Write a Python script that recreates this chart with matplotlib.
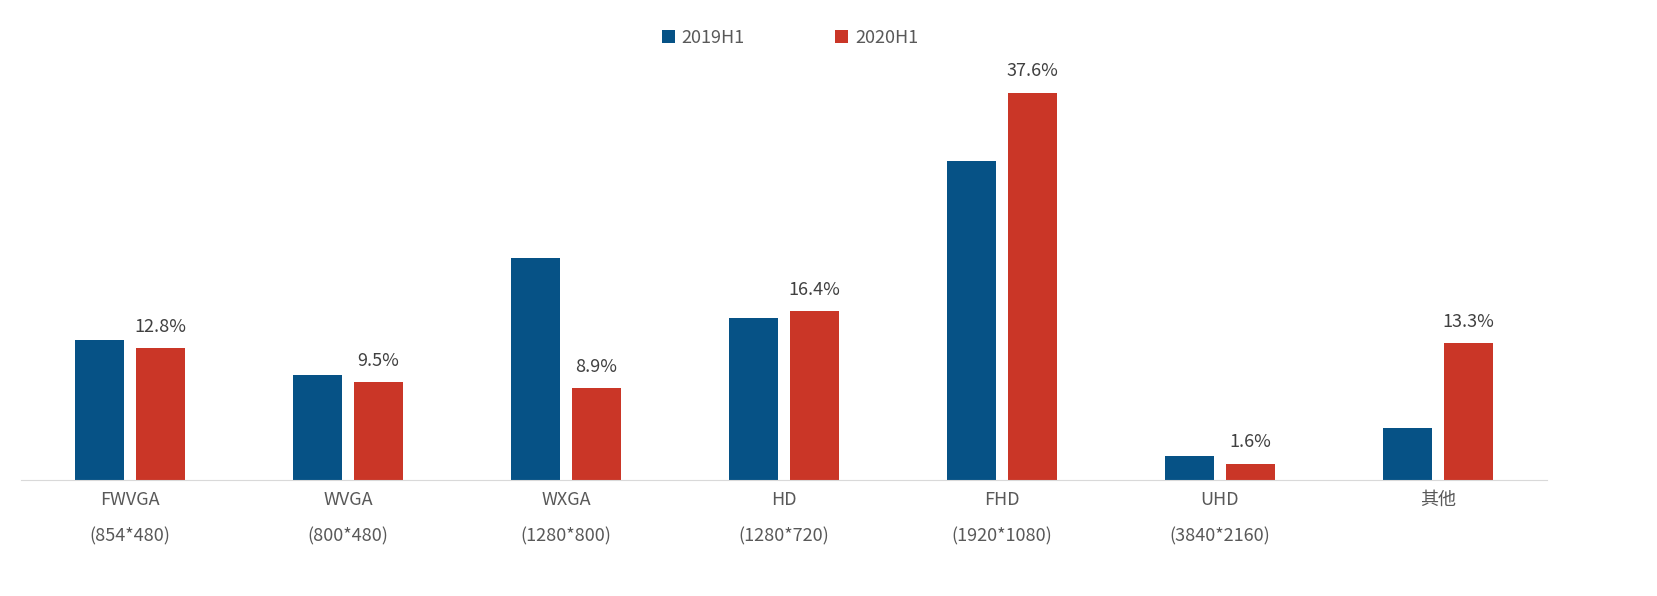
import matplotlib
matplotlib.use("Agg")
import matplotlib.pyplot as plt
import numpy as np

plt.rcParams["font.family"] = ["Noto Sans CJK SC", "DejaVu Sans"]

categories = ["FWVGA\n(854*480)", "WVGA\n(800*480)", "WXGA\n(1280*800)", "HD\n(1280*720)",
              "FHD\n(1920*1080)", "UHD\n(3840*2160)", "其他"]
v2019 = [13.6, 10.2, 21.6, 15.7, 31.0, 2.3, 5.1]
v2020 = [12.8, 9.5, 8.9, 16.4, 37.6, 1.6, 13.3]
labels2020 = ["12.8%", "9.5%", "8.9%", "16.4%", "37.6%", "1.6%", "13.3%"]

BLUE = "#065286"
RED = "#CA3627"
GRAY = "#595959"

fig = plt.figure(figsize=(16.58, 5.96), dpi=100)
ax = fig.add_axes([21 / 1658, 116 / 596, 1526 / 1658, 420 / 596])
x = np.arange(len(categories))
w = 0.225
off = 0.14
ax.bar(x - off, v2019, w, color=BLUE, label="2019H1")
b = ax.bar(x + off, v2020, w, color=RED, label="2020H1")
for rect, t in zip(b, labels2020):
    ax.annotate(t, (rect.get_x() + rect.get_width() / 2, rect.get_height()),
                xytext=(0, 9), textcoords="offset points", ha="center", va="bottom",
                fontsize=13, color="#404040")

ax.set_xlim(-0.5, len(categories) - 0.5)
ax.set_ylim(0, 40.8)
ax.set_xticks(x)
ax.set_xticklabels(categories, fontsize=13, color=GRAY, linespacing=2.3)
ax.tick_params(axis="x", length=0, pad=8)
ax.set_yticks([])
for s in ["top", "right", "left"]:
    ax.spines[s].set_visible(False)
ax.spines["bottom"].set_color("#D9D9D9")

fig.legend(loc="center", bbox_to_anchor=(790 / 1658, 1 - 38 / 596), ncol=2, frameon=False,
           fontsize=13, labelcolor=GRAY, handlelength=0.7, handleheight=0.7,
           columnspacing=5, handletextpad=0.4)

fig.savefig("out.png", dpi=100, facecolor="white")
